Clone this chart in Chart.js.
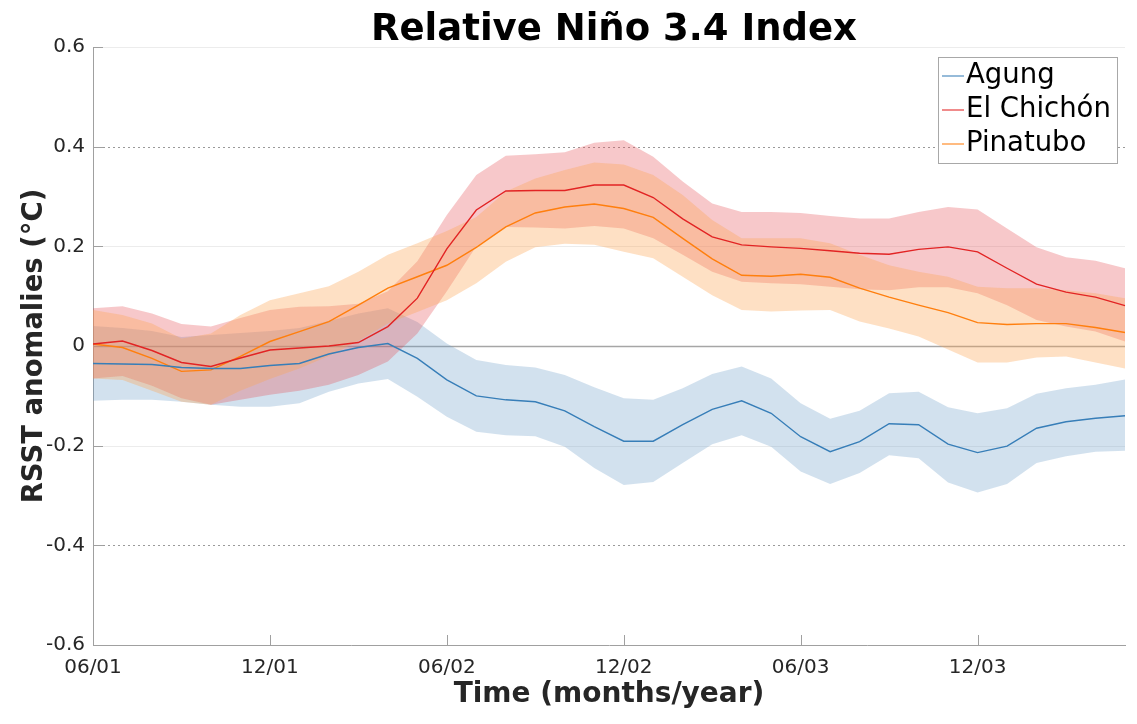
<!DOCTYPE html>
<html>
<head>
<meta charset="utf-8">
<title>Relative Niño 3.4 Index</title>
<script src="https://cdn.jsdelivr.net/npm/chart.js@4.4.1/dist/chart.umd.min.js"></script>
<style>
    html, body { margin: 0; padding: 0; background: #ffffff; }
    #wrap { position: relative; width: 1137px; height: 724px; }
</style>
</head>
<body>
<div id="wrap"><canvas id="nino"></canvas></div>
<script>
/* ---- data ---- */

var TITLE = 'Relative Niño 3.4 Index';

var MONTHS = [
    '06/01', '07/01', '08/01', '09/01', '10/01', '11/01',
    '12/01', '01/02', '02/02', '03/02', '04/02', '05/02',
    '06/02', '07/02', '08/02', '09/02', '10/02', '11/02',
    '12/02', '01/03', '02/03', '03/03', '04/03', '05/03',
    '06/03', '07/03', '08/03', '09/03', '10/03', '11/03',
    '12/03', '01/04', '02/04', '03/04', '04/04', '05/04'
];

var SERIES_NAMES = ['Agung', 'El Chichón', 'Pinatubo'];

var agung = [
    -0.035, -0.036, -0.037, -0.043, -0.045, -0.045, -0.039, -0.035, -0.016, -0.003, 0.005, -0.025,
    -0.068, -0.100, -0.108, -0.112, -0.130, -0.162, -0.191, -0.191, -0.158, -0.127, -0.110, -0.135,
    -0.182, -0.212, -0.192, -0.156, -0.158, -0.197, -0.214, -0.201, -0.165, -0.152, -0.145, -0.140
];
var agungHi = [
    0.040, 0.036, 0.030, 0.018, 0.022, 0.026, 0.030, 0.036, 0.050, 0.065, 0.076, 0.048,
    0.005, -0.028, -0.038, -0.043, -0.058, -0.083, -0.105, -0.108, -0.085, -0.056, -0.041, -0.065,
    -0.115, -0.146, -0.130, -0.095, -0.092, -0.123, -0.135, -0.125, -0.096, -0.085, -0.078, -0.067
];
var agungLo = [
    -0.110, -0.108, -0.108, -0.112, -0.118, -0.122, -0.122, -0.115, -0.092, -0.075, -0.066, -0.102,
    -0.142, -0.172, -0.179, -0.181, -0.202, -0.245, -0.279, -0.273, -0.235, -0.197, -0.179, -0.202,
    -0.252, -0.277, -0.255, -0.219, -0.225, -0.274, -0.294, -0.277, -0.235, -0.221, -0.212, -0.210
];

var chichon = [
    0.004, 0.010, -0.009, -0.033, -0.041, -0.024, -0.008, -0.004, 0.000, 0.007, 0.039, 0.096,
    0.195, 0.273, 0.311, 0.312, 0.312, 0.323, 0.323, 0.298, 0.255, 0.219, 0.203, 0.199,
    0.196, 0.191, 0.186, 0.184, 0.194, 0.199, 0.189, 0.156, 0.124, 0.108, 0.098, 0.081
];
var chichonHi = [
    0.076, 0.080, 0.065, 0.044, 0.039, 0.056, 0.072, 0.079, 0.080, 0.085, 0.110, 0.170,
    0.263, 0.343, 0.382, 0.385, 0.389, 0.408, 0.413, 0.380, 0.330, 0.286, 0.269, 0.269,
    0.267, 0.261, 0.256, 0.256, 0.269, 0.279, 0.274, 0.236, 0.198, 0.178, 0.171, 0.156
];
var chichonLo = [
    -0.065, -0.060, -0.080, -0.105, -0.118, -0.108, -0.098, -0.090, -0.078, -0.058, -0.031, 0.025,
    0.110, 0.200, 0.239, 0.238, 0.236, 0.241, 0.236, 0.216, 0.183, 0.149, 0.129, 0.126,
    0.124, 0.119, 0.114, 0.112, 0.118, 0.118, 0.106, 0.082, 0.052, 0.039, 0.029, 0.009
];

var pinatubo = [
    0.004, -0.003, -0.025, -0.051, -0.048, -0.021, 0.009, 0.029, 0.049, 0.082, 0.116, 0.139,
    0.162, 0.198, 0.239, 0.267, 0.279, 0.285, 0.276, 0.258, 0.216, 0.175, 0.142, 0.140,
    0.144, 0.138, 0.116, 0.098, 0.082, 0.067, 0.047, 0.043, 0.045, 0.045, 0.037, 0.027
];
var pinatuboHi = [
    0.072, 0.062, 0.045, 0.015, 0.025, 0.062, 0.092, 0.106, 0.120, 0.149, 0.183, 0.206,
    0.231, 0.259, 0.310, 0.336, 0.353, 0.368, 0.364, 0.343, 0.303, 0.253, 0.216, 0.216,
    0.216, 0.206, 0.183, 0.162, 0.149, 0.139, 0.119, 0.116, 0.116, 0.112, 0.106, 0.096
];
var pinatuboLo = [
    -0.065, -0.068, -0.090, -0.112, -0.118, -0.090, -0.066, -0.045, -0.020, 0.010, 0.045, 0.068,
    0.092, 0.126, 0.169, 0.198, 0.205, 0.203, 0.189, 0.176, 0.139, 0.102, 0.072, 0.069,
    0.071, 0.072, 0.049, 0.035, 0.019, -0.007, -0.033, -0.033, -0.023, -0.021, -0.033, -0.045
];

/* ---- styling ---- */

var COLORS = {
    blue:     'rgb(55,126,184)',
    red:      'rgb(226,36,36)',
    orange:   'rgb(255,127,14)',
    blueFill: 'rgba(105,155,198,0.3)',
    redFill:  'rgba(228,72,78,0.3)',
    orgFill:  'rgba(252,165,84,0.345)',
    axis:     '#a0a0a0',
    text:     '#262626'
};

var FONT = "'DejaVu Sans', 'Liberation Sans', sans-serif";

function band(data, color, order) {
    return {
        data: data, fill: false, backgroundColor: color, borderColor: 'rgba(0,0,0,0)',
        borderWidth: 0, pointRadius: 0, order: order
    };
}

function upperBand(data, color, order) {
    var d = band(data, color, order);
    d.fill = '+1';
    return d;
}

function line(label, data, color) {
    return {
        label: label, data: data, fill: false, borderColor: color, backgroundColor: color,
        borderWidth: 1.4, pointRadius: 0, tension: 0, order: 0
    };
}

/* gridlines + inward tick marks, positioned from the scales */
var gridPlugin = {
    id: 'matGrid',
    beforeDatasetsDraw: function (chart) {
        var ctx = chart.ctx, area = chart.chartArea;
        var ys = chart.scales.y, xs = chart.scales.x;
        ctx.save();
        ys.ticks.forEach(function (t) {
            var y = Math.round(ys.getPixelForValue(t.value)) + 0.5;
            var v = Math.round(t.value * 10) / 10;
            ctx.setLineDash([]);
            if (v === 0) {
                ctx.strokeStyle = '#a6a6a6'; ctx.lineWidth = 1.5;
            } else if (Math.abs(v) === 0.4) {
                ctx.strokeStyle = '#9a9a9a'; ctx.lineWidth = 1; ctx.setLineDash([2, 3]);
            } else if (v === -0.6) {
                return;
            } else {
                ctx.strokeStyle = '#ececec'; ctx.lineWidth = 1;
            }
            ctx.beginPath();
            ctx.moveTo(area.left, y);
            ctx.lineTo(area.right, y);
            ctx.stroke();
            ctx.setLineDash([]);
            ctx.strokeStyle = COLORS.axis; ctx.lineWidth = 1;
            ctx.beginPath();
            ctx.moveTo(area.left, y);
            ctx.lineTo(area.left + 10, y);
            ctx.stroke();
        });
        xs.ticks.forEach(function (t, i) {
            if (t.value % 6 !== 0) return;
            var x = Math.round(xs.getPixelForTick(i)) + 0.5;
            ctx.strokeStyle = COLORS.axis; ctx.lineWidth = 1;
            ctx.beginPath();
            ctx.moveTo(x, area.bottom);
            ctx.lineTo(x, area.bottom - 10);
            ctx.stroke();
        });
        ctx.restore();
    }
};

/* title centred over the plot area, boxed legend top right */
var decorPlugin = {
    id: 'decor',
    afterDraw: function (chart) {
        var ctx = chart.ctx, area = chart.chartArea;
        var colors = [COLORS.blue, COLORS.red, COLORS.orange];
        var w = 179, h = 106;
        var x0 = area.right - 8 - w, y0 = area.top + 10;
        ctx.save();

        ctx.fillStyle = '#000000';
        ctx.font = 'bold 37px ' + FONT;
        ctx.textAlign = 'center';
        ctx.textBaseline = 'alphabetic';
        ctx.fillText(TITLE, (area.left + area.right) / 2 + 5, 40);

        ctx.textAlign = 'left';
        ctx.fillStyle = '#ffffff';
        ctx.fillRect(x0, y0, w, h);
        ctx.strokeStyle = '#a8a8a8'; ctx.lineWidth = 1;
        ctx.strokeRect(x0 + 0.5, y0 + 0.5, w, h);
        ctx.font = '27.5px ' + FONT;
        ctx.textBaseline = 'middle';
        SERIES_NAMES.forEach(function (name, i) {
            var y = y0 + 19 + i * 34;
            ctx.strokeStyle = colors[i]; ctx.globalAlpha = 0.7; ctx.lineWidth = 1.5;
            ctx.beginPath();
            ctx.moveTo(x0 + 4, y);
            ctx.lineTo(x0 + 26, y);
            ctx.stroke();
            ctx.globalAlpha = 1;
            ctx.fillStyle = '#000000';
            ctx.fillText(name, x0 + 28, y);
        });
        ctx.restore();
    }
};

new Chart(document.getElementById('nino').getContext('2d'), {
    type: 'line',
    data: {
        labels: MONTHS,
        datasets: [
            upperBand(agungHi, COLORS.blueFill, 5),    band(agungLo, COLORS.blueFill, 5),
            upperBand(chichonHi, COLORS.redFill, 4),   band(chichonLo, COLORS.redFill, 4),
            upperBand(pinatuboHi, COLORS.orgFill, 3),  band(pinatuboLo, COLORS.orgFill, 3),
            line(SERIES_NAMES[0], agung, COLORS.blue),
            line(SERIES_NAMES[1], chichon, COLORS.red),
            line(SERIES_NAMES[2], pinatubo, COLORS.orange)
        ]
    },
    options: {
        responsive: true,
        maintainAspectRatio: false,
        animation: false,
        layout: { padding: { left: 0, right: 12, top: 47, bottom: 0 } },
        plugins: {
            legend: { display: false },
            tooltip: { enabled: false },
            title: { display: false }
        },
        scales: {
            x: {
                type: 'category',
                offset: false,
                grid: { display: false, drawTicks: false },
                border: { display: true, color: COLORS.axis },
                ticks: {
                    autoSkip: false, maxRotation: 0, padding: 11, color: COLORS.text,
                    font: { family: FONT, size: 20 },
                    callback: function (v, i) { return i % 6 === 0 ? MONTHS[i] : ''; }
                },
                title: {
                    display: true, text: 'Time (months/year)', color: COLORS.text,
                    font: { family: FONT, size: 28, weight: 'bold', lineHeight: 1.2 },
                    padding: { top: 0, bottom: 12 }
                },
                afterFit: function (s) { s.height = 79; }
            },
            y: {
                min: -0.6, max: 0.6,
                grid: { display: false, drawTicks: false },
                border: { display: true, color: COLORS.axis },
                ticks: {
                    stepSize: 0.2, padding: 8, color: COLORS.text,
                    font: { family: FONT, size: 20 },
                    callback: function (v) {
                        var r = Math.round(v * 10) / 10;
                        return r === 0 ? '0' : r.toFixed(1);
                    }
                },
                title: {
                    display: true, text: 'RSST anomalies (°C)', color: COLORS.text,
                    font: { family: FONT, size: 27.5, weight: 'bold', lineHeight: 1.2 },
                    padding: { top: 18, bottom: 0 }
                },
                afterFit: function (s) { s.width = 93; }
            }
        }
    },
    plugins: [gridPlugin, decorPlugin]
});
</script>
</body>
</html>
